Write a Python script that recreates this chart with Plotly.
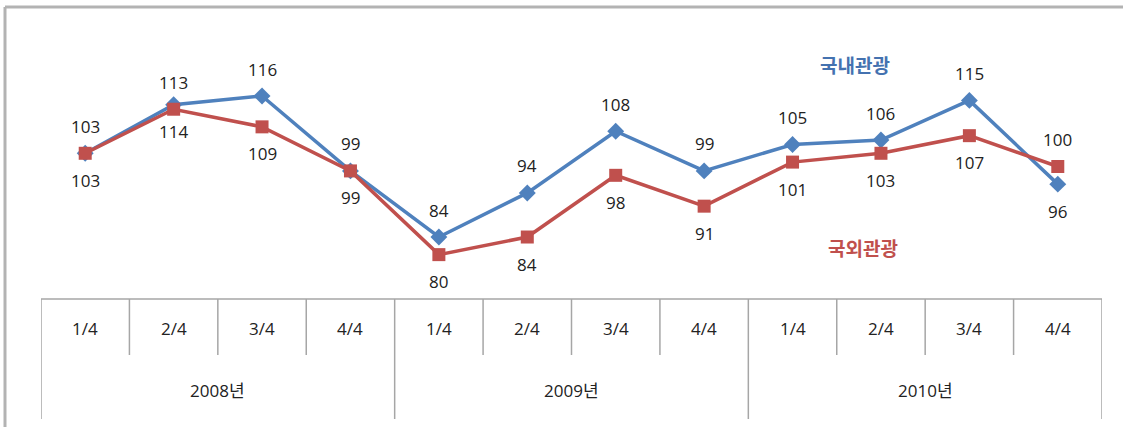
import plotly.graph_objects as go

quarters = ["1/4", "2/4", "3/4", "4/4"] * 3
years = ["2008년", "2009년", "2010년"]
domestic = [103, 114, 116, 99, 84, 94, 108, 99, 105, 106, 115, 96]
overseas = [103, 113, 109, 99, 80, 84, 98, 91, 101, 103, 107, 100]
domestic_pos = ["below", "below", "above", "above", "above", "above", "above", "above", "above", "above", "above", "below"]
overseas_pos = ["above", "above", "below", "below", "below", "below", "below", "below", "below", "below", "below", "above"]

W, H = 1123, 427
BLUE = "#4F81BD"
RED = "#C0504D"
FONT = "Open Sans, Noto Sans CJK KR, sans-serif"
FS = 17
xs = list(range(len(quarters)))

fig = go.Figure()
fig.add_trace(go.Scatter(x=xs, y=domestic, mode="lines+markers", name="국내관광",
                         line=dict(color=BLUE, width=3.5),
                         marker=dict(symbol="diamond", size=13, color=BLUE)))
fig.add_trace(go.Scatter(x=xs, y=overseas, mode="lines+markers", name="국외관광",
                         line=dict(color=RED, width=3.5),
                         marker=dict(symbol="square", size=13, color=RED)))

annotations = []
for i, (v, p) in enumerate(zip(domestic, domestic_pos)):
    annotations.append(dict(x=i, y=v, xref="x", yref="y", text=str(v), showarrow=False,
                            xanchor="center", yanchor="middle",
                            yshift=27 if p == "above" else -27,
                            font=dict(family=FONT, size=FS, color="#222")))
for i, (v, p) in enumerate(zip(overseas, overseas_pos)):
    annotations.append(dict(x=i, y=v, xref="x", yref="y", text=str(v), showarrow=False,
                            xanchor="center", yanchor="middle",
                            yshift=27 if p == "above" else -27,
                            font=dict(family=FONT, size=FS, color="#222")))

# series name labels
annotations.append(dict(x=855 / W, y=1 - 65 / H, xref="paper", yref="paper", text="<b>국내관광</b>",
                        showarrow=False, xanchor="center", yanchor="middle",
                        font=dict(family="Noto Sans CJK KR", size=19, color="#4472B0")))
annotations.append(dict(x=863 / W, y=1 - 247 / H, xref="paper", yref="paper", text="<b>국외관광</b>",
                        showarrow=False, xanchor="center", yanchor="middle",
                        font=dict(family="Noto Sans CJK KR", size=19, color=RED)))

axis_top = 1 - 299 / H
q_bottom = 1 - 355 / H
y_bottom = 1 - 419 / H

# category axis labels
for i, q in enumerate(quarters):
    annotations.append(dict(x=i, y=1 - 328 / H, xref="x", yref="paper", text=q, showarrow=False,
                            xanchor="center", yanchor="middle",
                            font=dict(family=FONT, size=FS, color="#222")))
for j, yr in enumerate(years):
    annotations.append(dict(x=j * 4 + 1.5, y=1 - 390 / H, xref="x", yref="paper", text=yr, showarrow=False,
                            xanchor="center", yanchor="middle",
                            font=dict(family=FONT, size=FS, color="#222")))

GRAY = "#A6A6A6"
shapes = []
shapes.append(dict(type="line", xref="x", yref="paper", x0=-0.5, x1=len(xs) - 0.5, y0=axis_top, y1=axis_top,
                   line=dict(color=GRAY, width=1.5)))
for k in range(len(xs) + 1):
    b = k - 0.5
    full = (k % 4 == 0)
    shapes.append(dict(type="line", xref="x", yref="paper", x0=b, x1=b, y0=axis_top,
                       y1=y_bottom if full else q_bottom, line=dict(color=GRAY, width=1.5)))

# outer frame (top and left edges visible)
shapes.append(dict(type="line", xref="paper", yref="paper", x0=5 / W, x1=1, y0=1 - 7 / H, y1=1 - 7 / H,
                   line=dict(color="#B3B3B3", width=3)))
shapes.append(dict(type="line", xref="paper", yref="paper", x0=5 / W, x1=5 / W, y0=0, y1=1 - 7 / H,
                   line=dict(color="#B3B3B3", width=3)))

fig.update_layout(
    width=W, height=H,
    margin=dict(l=0, r=0, t=0, b=0),
    paper_bgcolor="white", plot_bgcolor="white",
    showlegend=False,
    xaxis=dict(range=[-0.5, 11.5], domain=[41 / W, 1102 / W], visible=False, fixedrange=True),
    yaxis=dict(range=[69.93, 135.52], domain=[axis_top, 1 - 10 / H], visible=False, fixedrange=True),
    annotations=annotations,
    shapes=shapes,
)

fig.write_html("out.html", config={"displayModeBar": False},
               post_script="document.body.style.margin='0';document.body.style.overflow='hidden';")
